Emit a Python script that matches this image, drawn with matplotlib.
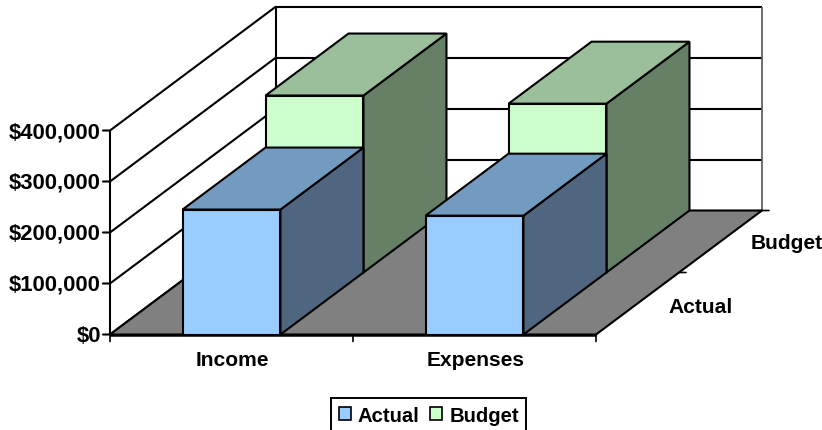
import matplotlib
matplotlib.use("Agg")
import matplotlib.pyplot as plt
from matplotlib.patches import Patch, Polygon

categories = ["Income", "Expenses"]
series_names = ["Actual", "Budget"]
actual = [245000, 233000]
budget = [347000, 331000]
value_ticks = [0, 100000, 200000, 300000, 400000]

W, H = 822, 431
X0, CAT_W = 110.0, 243.0      # pixel of category origin, pixels per category
Y0, PX_PER_VAL = 335.5, 51.0 / 100000
DEPTH_X, DEPTH_Y = 166.0 / CAT_W, 124.0 / PX_PER_VAL  # full depth in data units
BAR_W = 0.403
LW = 1.5
FS_VAL = 15.8
FS = 15.1

plt.rcParams["font.family"] = ["Liberation Sans", "DejaVu Sans"]
plt.rcParams["font.weight"] = "bold"
fig = plt.figure(figsize=(W / 100, H / 100), dpi=100)
ax = fig.add_axes([0, 0, 1, 1])
ax.set_xlim(-X0 / CAT_W, (W - X0) / CAT_W)
ax.set_ylim(-(H - Y0) / PX_PER_VAL, Y0 / PX_PER_VAL)
ax.axis("off")


def P(x, v, d=0.0):
    """Oblique projection: category x, value v, depth fraction d."""
    return (x + d * DEPTH_X, v + d * DEPTH_Y)


def poly(points, fc, z, ec="black", lw=LW):
    ax.add_patch(Polygon(points, closed=True, fc=fc, ec=ec, lw=lw, zorder=z,
                         joinstyle="miter"))


def line(a, b, z=2, color="black", lw=LW):
    ax.plot([a[0], b[0]], [a[1], b[1]], color=color, lw=lw, zorder=z,
            solid_capstyle="butt")


n = len(categories)
vmax = value_ticks[-1]

# Walls and gridlines
for v in value_ticks:
    line(P(0, v), P(0, v, 1), z=2)
    line(P(0, v, 1), P(n, v, 1), z=2)
line(P(0, 0), P(0, vmax), z=2)
line(P(0, 0, 1), P(0, vmax, 1), z=2)
line(P(n, 0, 1), P(n, vmax, 1), z=2, color="#555555", lw=1.2)

# Floor
poly([P(0, 0), P(n, 0), P(n, 0, 1), P(0, 0, 1)], "#808080", 3)


def bar(x, v, d0, d1, front, top, side, z):
    l, r = x, x + BAR_W
    poly([P(r, 0, d0), P(r, 0, d1), P(r, v, d1), P(r, v, d0)], side, z)
    poly([P(l, v, d0), P(r, v, d0), P(r, v, d1), P(l, v, d1)], top, z)
    poly([P(l, 0, d0), P(r, 0, d0), P(r, v, d0), P(l, v, d0)], front, z)


offset = (1 - BAR_W) / 2
for i in range(n):
    bar(i + offset, budget[i], 0.5, 1.0, "#CCFFCC", "#9BBF9B", "#668066", 4 + i)
for i in range(n):
    bar(i + offset, actual[i], 0.0, 0.5, "#99CCFF", "#739ABF", "#506680", 8 + i)

# Front axis line drawn over bars
line(P(0, 0), P(n, 0), z=12, lw=1.8)

# Value axis ticks and labels
for v in value_ticks:
    ax.annotate("", xy=P(0, v), xytext=(-7, 0), textcoords="offset pixels",
                arrowprops=dict(arrowstyle="-", lw=LW, color="black",
                                shrinkA=0, shrinkB=0), zorder=12)
    ax.annotate(f"${v:,}", xy=P(0, v), xytext=(-9, -1), textcoords="offset pixels",
                ha="right", va="center", fontsize=FS_VAL, zorder=12)

# Category axis ticks and labels
for i in range(n + 1):
    ax.annotate("", xy=P(i, 0), xytext=(0, -7), textcoords="offset pixels",
                arrowprops=dict(arrowstyle="-", lw=1.2, color="black",
                                shrinkA=0, shrinkB=0), zorder=12)
for i, c in enumerate(categories):
    ax.annotate(c, xy=P(i + 0.5, 0), xytext=(1, -25), textcoords="offset pixels",
                ha="center", va="center", fontsize=FS)

# Depth axis ticks and labels
for d in [0.5, 1.0]:
    ax.annotate("", xy=P(n, 0, d), xytext=(7, 0), textcoords="offset pixels",
                arrowprops=dict(arrowstyle="-", lw=1.2, color="black",
                                shrinkA=0, shrinkB=0), zorder=2)
depth_offsets = [(63, -3), (66, -1)]
for name, d, off in zip(series_names, [0.25, 0.75], depth_offsets):
    ax.annotate(name, xy=P(n, 0, d), xytext=off, textcoords="offset pixels",
                ha="center", va="center", fontsize=FS)

# Legend
handles = [Patch(fc="#99CCFF", ec="black", lw=1.2, label=series_names[0]),
           Patch(fc="#CCFFCC", ec="black", lw=1.2, label=series_names[1])]
leg = ax.legend(handles=handles, ncol=2, loc="upper left",
                bbox_to_anchor=(331 / W, 1 - 399 / H), bbox_transform=fig.transFigure,
                frameon=True, fancybox=False, edgecolor="black",
                framealpha=1, borderaxespad=0, borderpad=0.37, handlelength=0.6,
                handleheight=0.6, handletextpad=0.36, columnspacing=0.5,
                prop={"size": 14.6, "weight": "bold"})
leg.get_frame().set_linewidth(1.4)
leg.set_zorder(20)

fig.savefig("out.png", dpi=100)
